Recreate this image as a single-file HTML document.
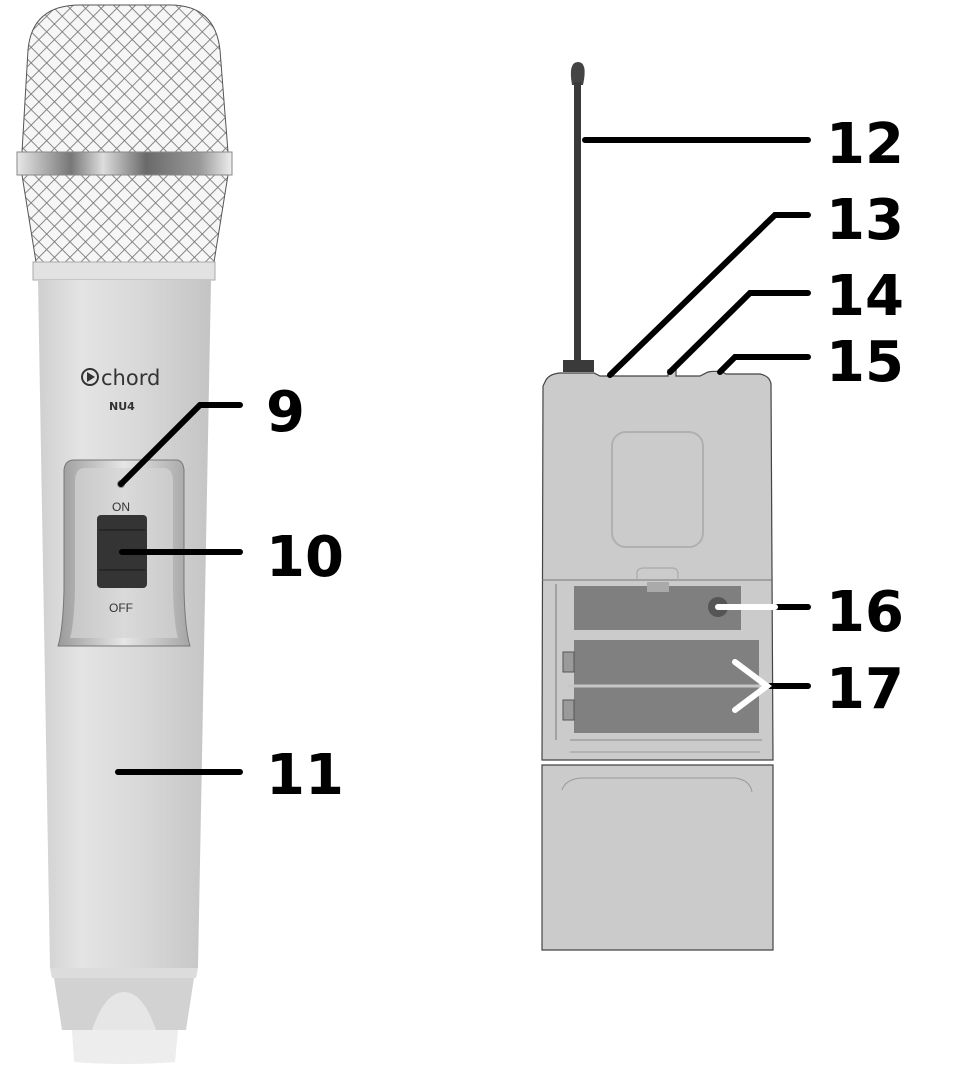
<!DOCTYPE html>
<html><head><meta charset="utf-8"><style>html,body{margin:0;padding:0;background:#fff}svg{display:block}</style></head>
<body>
<svg width="974" height="1080" viewBox="0 0 974 1080" xmlns="http://www.w3.org/2000/svg">
<defs>
<pattern id="mesh" width="11" height="11" patternUnits="userSpaceOnUse" patternTransform="rotate(45)">
<rect width="11" height="11" fill="#f6f6f6"/>
<path d="M0 0H11M0 0V11" stroke="#7a7a7a" stroke-width="1.8"/>
</pattern>
<linearGradient id="body" x1="0" x2="1">
<stop offset="0" stop-color="#cfcfcf"/><stop offset="0.25" stop-color="#e4e4e4"/><stop offset="0.6" stop-color="#d8d8d8"/><stop offset="1" stop-color="#c4c4c4"/>
</linearGradient>
<linearGradient id="ring" x1="0" x2="1">
<stop offset="0" stop-color="#e8e8e8"/><stop offset="0.25" stop-color="#777"/><stop offset="0.4" stop-color="#ddd"/><stop offset="0.6" stop-color="#6a6a6a"/><stop offset="0.85" stop-color="#999"/><stop offset="1" stop-color="#eee"/>
</linearGradient>
<linearGradient id="panel" x1="0" x2="1">
<stop offset="0" stop-color="#9a9a9a"/><stop offset="0.5" stop-color="#e6e6e6"/><stop offset="1" stop-color="#a5a5a5"/>
</linearGradient>
</defs>

<path d="M22 152 L28 50 Q32 5 80 5 H170 Q215 5 220 50 L228 152 Z" fill="url(#mesh)" stroke="#555" stroke-width="1"/>
<path d="M22 175 L228 175 L214 262 L36 262 Z" fill="url(#mesh)" stroke="#555" stroke-width="1"/>
<rect x="17" y="152" width="215" height="23" fill="url(#ring)" stroke="#888"/>
<rect x="33" y="262" width="182" height="18" fill="#e2e2e2" stroke="#aaa"/>
<path d="M38 280 H211 L198 968 H50 Z" fill="url(#body)"/>
<path d="M50 968 H198 L196 978 H52 Z" fill="#dcdcdc"/>
<path d="M54 978 H194 L186 1030 H62 Z" fill="#d2d2d2"/>
<path d="M92 1030 Q105 992 124 992 Q143 992 156 1030 Z" fill="#e6e6e6"/>
<path d="M72 1030 H178 L175 1062 Q124 1066 74 1062 Z" fill="#ededed"/>
<circle cx="90" cy="377" r="8" fill="none" stroke="#333" stroke-width="2"/>
<path d="M87 372 L95 377 L87 382 Z" fill="#333"/>
<text x="101" y="385" font-family="DejaVu Sans, sans-serif" font-size="21" fill="#333">chord</text>
<text x="109" y="410" font-family="DejaVu Sans, sans-serif" font-weight="bold" font-size="11" fill="#333">NU4</text>
<path d="M74 460 H176 Q183 460 184 470 L184 590 Q185 630 190 646 H58 Q63 630 64 590 L64 470 Q65 460 74 460 Z" fill="url(#panel)" stroke="#777"/>
<path d="M84 468 H164 Q172 468 173 480 V590 Q174 625 178 638 H70 Q74 625 75 590 V480 Q76 468 84 468 Z" fill="#d4d4d4" opacity="0.7"/>
<circle cx="121" cy="484" r="4" fill="#888"/>
<text x="121" y="511" font-family="Liberation Sans, sans-serif" font-size="12" text-anchor="middle" fill="#333">ON</text>
<rect x="97" y="515" width="50" height="73" rx="4" fill="#343434"/>
<path d="M99 530 H145 M99 570 H145" stroke="#222" stroke-width="1.5"/>
<text x="121" y="612" font-family="Liberation Sans, sans-serif" font-size="12" text-anchor="middle" fill="#333">OFF</text>

<path d="M572 85 Q568 62 578 62 Q588 62 583 85 Z" fill="#444"/>
<rect x="574" y="82" width="7" height="283" fill="#3a3a3a"/>
<rect x="563" y="360" width="31" height="12" fill="#3a3a3a"/>
<path d="M545 382 Q548 374 560 373 H594 L600 376 H668 V370 H676 V376 H700 L708 372 Q720 370 726 374 L760 374 Q770 376 771 384 L773 760 H542 L543 386 Z" fill="#cbcbcb" stroke="#444" stroke-width="1.2"/>
<rect x="612" y="432" width="91" height="115" rx="14" fill="none" stroke="#b0b0b0" stroke-width="2"/>
<line x1="542" y1="580" x2="773" y2="580" stroke="#777" stroke-width="1"/>
<path d="M637 580 V572 Q638 568 644 568 H672 Q678 568 678 574 V580" fill="none" stroke="#aaa" stroke-width="1.2"/>
<line x1="556" y1="584" x2="556" y2="740" stroke="#777"/>
<rect x="574" y="586" width="167" height="44" fill="#7f7f7f"/>
<rect x="647" y="582" width="22" height="10" fill="#aaa"/>
<circle cx="718" cy="607" r="10" fill="#555"/>
<rect x="574" y="640" width="185" height="93" fill="#808080"/>
<rect x="563" y="652" width="11" height="20" fill="#9a9a9a" stroke="#555"/>
<rect x="563" y="700" width="11" height="20" fill="#9a9a9a" stroke="#555"/>
<line x1="568" y1="686" x2="760" y2="686" stroke="#c6c6c6" stroke-width="3"/>
<line x1="570" y1="740" x2="762" y2="740" stroke="#888"/>
<path d="M542 765 H773 V950 H542 Z" fill="#cbcbcb" stroke="#444" stroke-width="1.2"/>
<path d="M570 752 H760 M562 790 Q565 780 580 778 H735 Q750 780 752 792" fill="none" stroke="#999"/>

<g stroke="#000" stroke-width="6" fill="none" stroke-linecap="round">
<polyline points="121,484 200,405 240,405"/>
<line x1="122" y1="552" x2="240" y2="552"/>
<line x1="118" y1="772" x2="240" y2="772"/>
<line x1="585" y1="140" x2="808" y2="140"/>
<polyline points="610,375 775,215 808,215"/>
<polyline points="670,372 750,293 808,293"/>
<polyline points="720,372 735,357 808,357"/>
<line x1="775" y1="607" x2="808" y2="607"/>
<line x1="770" y1="686" x2="808" y2="686"/>
</g>
<g stroke="#fff" stroke-width="6" fill="none" stroke-linecap="round">
<line x1="718" y1="607" x2="775" y2="607"/>
<polyline points="735,662 767,686 735,710"/>
</g>

<g font-family="DejaVu Sans, sans-serif" font-weight="bold" font-size="56" fill="#000">
<text x="266" y="431">9</text>
<text x="266" y="576">10</text>
<text x="266" y="794">11</text>
<text x="826" y="163">12</text>
<text x="826" y="239">13</text>
<text x="826" y="315">14</text>
<text x="826" y="381">15</text>
<text x="826" y="631">16</text>
<text x="826" y="708">17</text>
</g>
</svg>
</body></html>
